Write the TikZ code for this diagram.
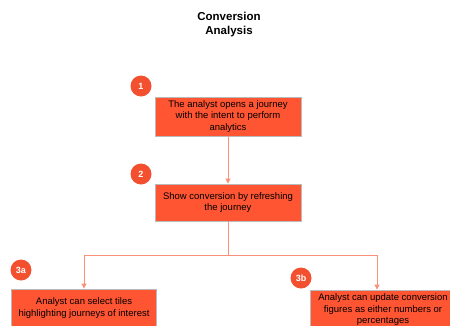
\documentclass[tikz,border=0pt]{standalone}
\usepackage{fontspec}
\setmainfont{Liberation Sans}
\usetikzlibrary{arrows.meta}

\definecolor{stepred}{HTML}{FF5533}
\definecolor{badgered}{HTML}{F2502F}
\definecolor{linkred}{HTML}{F8907A}

\tikzset{
  stepbox/.style={draw=gray!55, fill=stepred, line width=0.8pt, minimum width=146pt,
    align=center, inner sep=1pt, font=\fontsize{9.5}{11.5}\selectfont},
  badge/.style={circle, fill=badgered, text=white, minimum size=21pt, inner sep=0pt,
    font=\bfseries\fontsize{9}{9}\selectfont},
  link/.style={draw=linkred, line width=0.8pt, -{Triangle[length=5pt,width=5pt]}}
}

\begin{document}
\begin{tikzpicture}[x=1pt,y=-1pt]
  \useasboundingbox (0,0) rectangle (450,325);

  \node (title) at (229,25) [align=center, font=\bfseries\fontsize{11.5}{14}\selectfont]
    {Conversion\\Analysis};

  % steps
  \node (box1) at (228,116.5) [stepbox, minimum height=39pt]
    {The analyst opens a journey\\with the intent to perform\\analytics};
  \node (box2) at (228,202.5) [stepbox, minimum height=37pt]
    {Show conversion by refreshing\\the journey};
  \node (box3a) at (84,308) [stepbox, minimum height=38pt, minimum width=145pt]
    {Analyst can select tiles\\highlighting journeys of interest};
  \node (box3b) at (383,310) [stepbox, minimum height=40pt]
    {Analyst can update conversion\\figures as either numbers or\\percentages};

  % badges
  \node (num1) at (141,86) [badge] {1};
  \node (num2) at (141,174) [badge] {2};
  \node (num3a) at (21,270) [badge] {3a};
  \node (num3b) at (301,278) [badge] {3b};

  % connectors
  \coordinate (split) at (228,255);
  \draw[link] (box1) -- (box2);
  \draw[draw=linkred, line width=0.8pt] (box2) -- (split);
  \draw[link] (split) -| (box3a);
  \draw[link] (split) -| ([xshift=-6pt]box3b.north);
\end{tikzpicture}
\end{document}
